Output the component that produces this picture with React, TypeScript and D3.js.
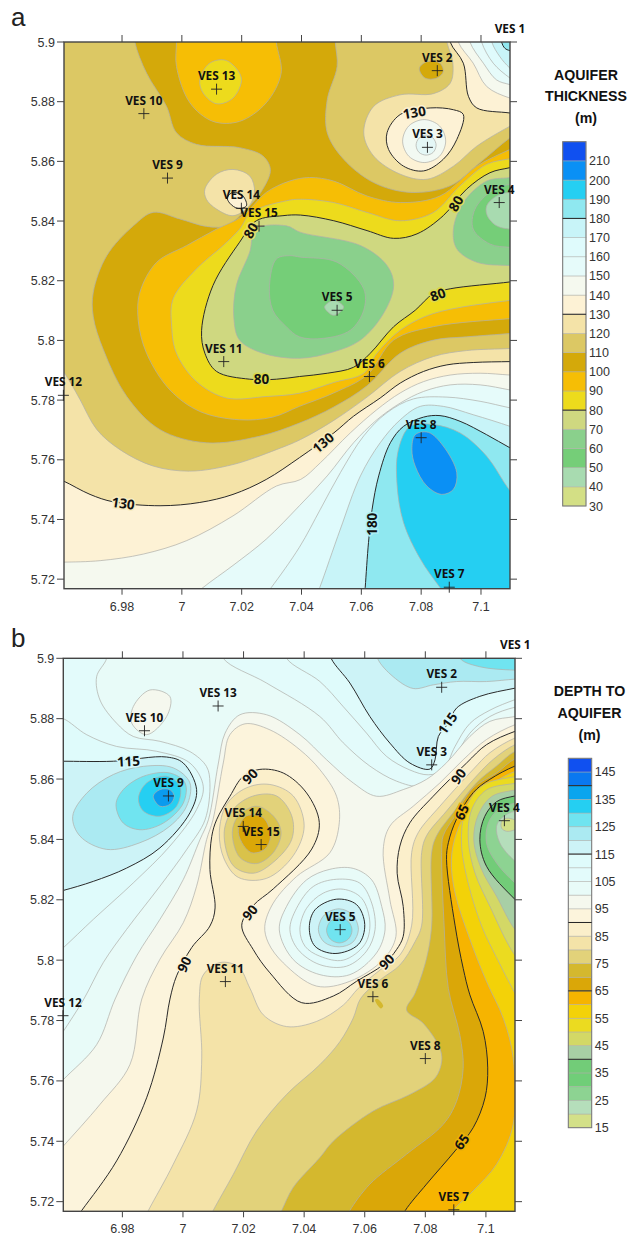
import React from "react";
import * as d3 from "d3";

type P = number[];

// --- Panel a: aquifer thickness contour polygons ---
const aS130: P[] = [[6956,5754.6],[6960.4,5752.9],[6969.3,5748.4],[6977.1,5745.9],[6992.7,5744.6],[7006,5745.7],[7017.1,5748.4],[7028.2,5753.4],[7039.3,5760.7],[7050.8,5769],[7057.4,5774.6],[7066.3,5780.7],[7073,5785.7],[7080.8,5789.6],[7088.6,5791.8],[7097.4,5792.6],[7109.7,5792.9],[7117,5793],[7125,5700],[6950,5700]];
const aS140: P[] = [[6956,5725.7],[6960.4,5725.7],[6972.7,5726.2],[6987.1,5728.4],[7001.6,5732.9],[7017.1,5741.2],[7031.6,5751.2],[7039.7,5753.4],[7046.3,5759],[7056.3,5769],[7065.2,5776.8],[7073,5782.4],[7080.8,5786.2],[7089.7,5788.4],[7099.7,5789],[7109.7,5788.4],[7117,5788],[7125,5700],[6950,5700]];
const aS150: P[] = [[7001.6,5712.3],[7007.1,5717.2],[7017.1,5724.6],[7028.2,5733.4],[7039.3,5744.6],[7048.6,5754.6],[7057.4,5765.7],[7065.2,5773.4],[7073,5779],[7080.8,5782.9],[7089.7,5785.1],[7099.7,5785.1],[7109.7,5783.4],[7117,5782],[7125,5700]];
const aS160: P[] = [[7026,5712.3],[7029.9,5717.2],[7039.3,5730.7],[7046.3,5743.4],[7053,5755.7],[7060.8,5768],[7068.6,5775.8],[7077.4,5780.4],[7088.6,5781],[7099.7,5779.6],[7109.7,5777.4],[7117,5776],[7125,5700]];
const aS170: P[] = [[7044.1,5712.3],[7046.1,5717.2],[7053,5736.8],[7059.7,5754.6],[7066.3,5765.7],[7073,5773.4],[7079.7,5777.9],[7087.4,5777.9],[7097.4,5775.1],[7109.7,5771.2],[7117,5768.4],[7125,5700]];
const aS180: P[] = [[7060.8,5710],[7061.3,5717.2],[7062.4,5732.3],[7063.6,5743.4],[7065.8,5754.6],[7069.7,5765.7],[7074.1,5771.2],[7080.8,5774.3],[7086.3,5774.8],[7093,5772.9],[7101.9,5768.4],[7109.7,5764],[7117.4,5760],[7125,5700]];
const aS190: P[] = [[7117.4,5741.1],[7109.7,5749.6],[7101.9,5761.2],[7093,5769],[7084.1,5771.8],[7076.3,5771.2],[7072.4,5763.4],[7071.9,5752.3],[7074.1,5739],[7079.7,5726.8],[7086.3,5717.2],[7091.9,5710],[7125,5700]];
const aS200: P[] = [[7076.9,5763.4],[7078,5768.4],[7082.4,5769.2],[7087.4,5764.6],[7091.9,5755.7],[7090.8,5750.1],[7086.9,5748.4],[7081.9,5751.2],[7078,5757.9]];
const aN130: P[] = [[7089.1,5907.3],[7089.7,5900],[7094.1,5892.9],[7095.8,5881.8],[7098.6,5877.9],[7109.7,5876.2],[7117.4,5875],[7125,5915]];
const aN140: P[] = [[7091.3,5907.3],[7092.4,5900],[7097.4,5892.9],[7101.9,5885.1],[7109.7,5881.2],[7117.4,5879.6],[7125,5915]];
const aN150: P[] = [[7095.2,5907.3],[7096.3,5900],[7100.8,5892.9],[7105.2,5887.3],[7109.7,5885.7],[7117.4,5883.4],[7125,5915]];
const aN160: P[] = [[7099.1,5907.3],[7100.2,5900],[7104.1,5892.9],[7109.7,5887.9],[7117.4,5882.9],[7125,5915]];
const aN170: P[] = [[7102.4,5907.3],[7103.6,5900],[7106.3,5895.1],[7109.7,5891.2],[7117.4,5885],[7125,5915]];
const aN180: P[] = [[7106.3,5907.3],[7106.9,5900],[7108,5897.9],[7109.7,5897.1],[7117.4,5896],[7125,5915]];
const aT120: P[] = [[6950,5915],[7087.4,5907.3],[7088.6,5900],[7090.6,5892.9],[7089.7,5886.2],[7084.1,5882.7],[7073,5882.3],[7064.1,5878.4],[7060.8,5869.6],[7064.1,5861.8],[7073,5855.7],[7081.9,5854],[7090.8,5858.4],[7098.6,5865.1],[7109.7,5871.8],[7117.4,5875.7],[7125,5835],[7117.4,5797.9],[7109.7,5797.3],[7095.2,5796.6],[7084.1,5794.6],[7073,5789.6],[7061.9,5781],[7050.8,5773.2],[7039.7,5766.8],[7031.6,5763.4],[7017.1,5758.4],[7002.7,5756.2],[6990.4,5757.9],[6979.3,5763.4],[6971.6,5770.1],[6966,5780.1],[6963.2,5785.1],[6960.4,5789.6],[6956,5795.7],[6945,5850]];
const aG110: P[] = [[6983.8,5907.3],[6984.3,5900],[6988.2,5889.6],[6994.9,5878.4],[6998.2,5869.6],[7004.9,5865.7],[7019.3,5864.6],[7027.1,5861.8],[7029.6,5857.3],[7027.1,5850.7],[7021.6,5844],[7014.9,5838.4],[7008.2,5838.2],[6999.3,5840.7],[6990.4,5842.9],[6983.8,5838.4],[6974.9,5828.4],[6970.4,5816.2],[6970.4,5807.9],[6973.8,5796.8],[6981.6,5781.2],[6992.7,5770.1],[7008.2,5765.7],[7026,5767.9],[7039.3,5772.3],[7050.8,5777.7],[7061.9,5784.8],[7073,5795.7],[7084.1,5800.1],[7095.2,5801.2],[7109.7,5802.3],[7117.4,5802.9],[7125,5835],[7117.4,5872.9],[7109.7,5867.9],[7099.7,5859.6],[7089.7,5851.8],[7076.3,5849.6],[7064.1,5852.9],[7054.1,5860.7],[7048.6,5869.6],[7048.6,5880.7],[7051.9,5891.8],[7051.3,5900],[7051.3,5907.3]];
const aV14Pale: P[] = [[7007.7,5850.7],[7011.6,5855.7],[7017.1,5857.3],[7022.7,5855.1],[7024.3,5849.6],[7022.1,5844.6],[7017.1,5841.8],[7011.6,5844],[7008.2,5847.3]];
const aV14Peak: P[] = [[7015.2,5847.9],[7017.1,5849.6],[7020.4,5848.4],[7021.6,5845.1],[7018.8,5844.2],[7016,5846]];
const aV2Gold: P[] = [[7079.4,5891.2],[7081.9,5893.4],[7086.3,5892.9],[7087.4,5890.1],[7085.2,5887.9],[7081.3,5887.9]];
const aV3130: P[] = [[7073,5875.7],[7068.6,5869.6],[7069.1,5864],[7074.1,5858.4],[7080.8,5856.8],[7087.4,5860.7],[7091.9,5867.3],[7094.1,5875.7],[7090.8,5877.3],[7083,5877.9]];
const aV3140: P[] = [[7073.8,5866.8],[7075.9,5871.9],[7081,5874],[7086.1,5871.9],[7088.2,5866.8],[7086.1,5861.7],[7081,5859.6],[7075.9,5861.7]];
const aV3150: P[] = [[7078.3,5865.4],[7079.3,5867.8],[7081.7,5868.8],[7084,5867.8],[7085,5865.4],[7084,5863],[7081.7,5862.1],[7079.3,5863]];
const aO100: P[] = [[7020.2,5841.6],[7028.2,5849.6],[7036,5853.4],[7042.7,5854.6],[7050.8,5853.4],[7061.9,5848.4],[7073,5846.2],[7086.3,5848.4],[7098.6,5858.4],[7109.7,5864],[7117.4,5867.3],[7125,5840],[7117.4,5807.9],[7109.7,5807.3],[7084.1,5804.6],[7070.8,5800.1],[7061.9,5788.4],[7050.8,5782.4],[7039.3,5777.9],[7030.4,5774.3],[7019.3,5773.4],[7006,5776.2],[6996,5783.4],[6988.2,5795.7],[6985.4,5806.8],[6986,5816.2],[6991.6,5826.2],[7001.6,5831.8],[7011.6,5837.3]];
const aY90: P[] = [[7023.2,5842.9],[7034.9,5846.8],[7039.7,5847.3],[7050.8,5846.2],[7061.9,5842.9],[7073,5840.1],[7084.1,5842.9],[7093,5851.8],[7101.9,5859],[7109.7,5860.9],[7117.4,5862.3],[7125,5830],[7117.4,5814],[7109.7,5813.4],[7084.1,5809],[7073,5803.4],[7065.2,5795.7],[7060.8,5789],[7050.8,5785.9],[7039.3,5782.3],[7028.2,5781.2],[7014.9,5780.7],[7004.9,5786.2],[6998.2,5795.7],[6996.6,5804.6],[6997.1,5814],[7004.9,5824],[7013.8,5831.8],[7019.3,5837.3]];
const aL80: P[] = [[7024.9,5840.1],[7033.8,5841.8],[7039.7,5842],[7050.8,5840.1],[7061.9,5836.8],[7070.8,5834.2],[7078.6,5835.7],[7087.4,5841.8],[7095.2,5850.7],[7103,5856.2],[7109.7,5857.9],[7117.4,5859.6],[7125,5830],[7117.4,5820.7],[7109.7,5819.6],[7089.7,5817.3],[7084.1,5815.7],[7078,5810.1],[7070.8,5804.6],[7063,5795.7],[7057.4,5791],[7048.6,5789],[7039.3,5787.9],[7031.6,5787],[7022.7,5787],[7011.6,5789.6],[7007.7,5795.7],[7006.6,5803.4],[7010.4,5818.4],[7019.3,5832.9]];
const aB70c: P[] = [[7024.7,5837.3],[7022.7,5829.6],[7018.2,5818.4],[7017.4,5807.3],[7019.3,5800.1],[7027.1,5795.7],[7039.3,5794],[7050.8,5796.2],[7059.7,5800.1],[7067.4,5809],[7070.8,5818.4],[7068.6,5825.1],[7059.7,5831.8],[7039.7,5836.2],[7034.9,5838.4]];
const aB70e: P[] = [[7117.4,5856.2],[7109.7,5854.6],[7101.9,5853.4],[7094.1,5846.2],[7090.8,5837.3],[7091.9,5830.7],[7098.6,5826.2],[7109.7,5825.1],[7117.4,5825.1],[7125,5840]];
const aB60c: P[] = [[7036,5828.4],[7031.6,5827.3],[7029.3,5818.4],[7030.4,5810.1],[7034.9,5804.6],[7039.3,5801.2],[7047.4,5800.7],[7056.3,5803.4],[7060.8,5810.1],[7060.8,5817.3],[7051.9,5826.2],[7039.7,5827.9]];
const aB60e: P[] = [[7117.4,5852.3],[7109.7,5852.3],[7103.6,5850.1],[7098,5844],[7097.4,5837.3],[7103,5832.3],[7109.7,5831.2],[7117.4,5831.2],[7125,5840]];
const aB50e: P[] = [[7101.9,5845.1],[7105.2,5848.4],[7109.7,5849.6],[7117.4,5848.4],[7117.4,5837.3],[7109.7,5837.3],[7105.2,5838.4],[7102.1,5841.8]];
const aB50c: P[] = [[7047.7,5811.2],[7050.8,5813.4],[7054.1,5811.2],[7050.8,5808.4]];
const aV13Orange: P[] = [[6998.2,5907.3],[6998.2,5900],[6998.2,5891.8],[7002.7,5879.6],[7010.4,5873.4],[7019.3,5873.4],[7028.2,5879.6],[7033.2,5889.6],[7031.6,5900],[7031.6,5907.3]];
const aV13Yellow: P[] = [[7006,5887.3],[7009.3,5892.9],[7014.9,5893.8],[7019.9,5887.9],[7017.1,5881.2],[7011.6,5879.3],[7007.1,5882.9]];

// --- Panel b: depth to aquifer contour polygons ---
const bW110: P[] = [[6956.1,5880.7],[6960.5,5880],[6968.2,5874.7],[6978.1,5870.8],[6991.3,5869.2],[7002.3,5865.3],[7006.7,5857.6],[7004.5,5849.9],[6995.7,5837.8],[6983.6,5825.6],[6970.4,5813.5],[6960.5,5804.1],[6955,5799.2],[6945,5840]];
const bW115: P[] = [[6956.1,5865.9],[6960.5,5865.9],[6977,5865.9],[6994.6,5867.3],[7000.1,5865.3],[7004.5,5856.5],[7002.3,5848.8],[6992.4,5837.2],[6981.4,5830.5],[6970.4,5826.1],[6960.5,5823.1],[6955,5821.8],[6945,5845]];
const bW120: P[] = [[6963.6,5847.6],[6968.2,5855.3],[6977,5861.5],[6986.9,5864.2],[6996.8,5863.7],[7002.3,5858.7],[7001.2,5851],[6995.7,5844.4],[6985.8,5838.9],[6974.8,5836.7],[6966,5841.1]];
const bW125: P[] = [[6977.9,5851.6],[6980.3,5856.5],[6986.9,5860.9],[6995.7,5862],[7000.7,5858.7],[7000.1,5852],[6993.5,5845.4],[6985.8,5843.2],[6980.3,5845.4]];
const bW130: P[] = [[6985.3,5853.7],[6988,5858.7],[6994.6,5860.9],[6999,5857.6],[6997.9,5851],[6992.4,5847.7],[6986.9,5849.4]];
const bW135: P[] = [[6990.2,5854.3],[6992.4,5856.5],[6995.7,5856.5],[6997.1,5854.3],[6995.7,5851.6],[6992.4,5851]];
const bN110: P[] = [[7033.1,5906],[7034.2,5900],[7045.2,5892.3],[7052.9,5884],[7060.6,5875.2],[7067.2,5867.5],[7074.9,5863],[7081,5861.4],[7085.9,5863],[7089.8,5870.8],[7094.7,5878.4],[7101.3,5882.8],[7109.6,5886.3],[7115.6,5888.3],[7125,5915]];
const bN115: P[] = [[7047.4,5906],[7048.9,5900],[7055.1,5891.8],[7061.7,5880.7],[7068.3,5871.9],[7074.9,5865.3],[7081.5,5863.3],[7083.2,5866.4],[7084.3,5874.1],[7087.6,5878.5],[7090.3,5883.5],[7098,5887.4],[7109.6,5890.1],[7115.6,5891.2],[7125,5915]];
const bN120: P[] = [[7063.4,5906],[7064.2,5900],[7069.4,5893.9],[7076,5890],[7082.6,5891.2],[7090.3,5892.3],[7100.2,5892.3],[7109.6,5893.1],[7115.6,5893.4],[7125,5915]];
const bN125: P[] = [[7090.3,5906],[7091.4,5900],[7098,5897.2],[7109,5896.1],[7115.6,5896.1],[7125,5915]];
const bL105: P[] = [[6974.8,5906],[6974.8,5900],[6971.5,5893.9],[6972.6,5886.2],[6978.1,5878.5],[6983.6,5874.1],[6992.4,5872.5],[7002.3,5869.1],[7007.8,5864.1],[7008.9,5858.6],[7007.3,5846.5],[7001.2,5836.6],[6992.4,5824.5],[6981.4,5810.2],[6973.7,5799.2],[6967.1,5786.8],[6960.5,5776.4],[6956.1,5769.8],[6950,5700],[7125,5700],[7125,5860],[7115.6,5884.6],[7109.6,5883.8],[7101.3,5880.7],[7094.7,5875.2],[7089.2,5866.4],[7083.7,5860.4],[7078.2,5857.6],[7070.5,5859.3],[7061.7,5864.3],[7052.9,5872],[7045.2,5880.7],[7027.6,5891.8],[7013.3,5900],[7012.2,5906]];
const bV10: P[] = [[6983.1,5878.5],[6983.6,5884],[6989.1,5889.5],[6995.7,5887.3],[6994.6,5880.7],[6988,5874.7]];
const bL100: P[] = [[6956.1,5755.5],[6960.5,5760.4],[6971.5,5772],[6977.6,5787.1],[6984.7,5801.4],[6992.4,5813.5],[7000.1,5826.7],[7005.6,5839.9],[7008.4,5846.5],[7011.7,5865.3],[7013.9,5875.2],[7018.8,5881.3],[7027.6,5881.3],[7038.6,5874.7],[7047.4,5866.4],[7056.2,5858.7],[7063.9,5854.3],[7072.7,5856.5],[7080.4,5859.9],[7087,5865.4],[7094.7,5874.1],[7101.3,5879.1],[7109.6,5880.7],[7115.6,5881.8],[7125,5700],[6950,5700]];
const bL95: P[] = [[6956.1,5733.5],[6960.5,5738.4],[6972.6,5752.2],[6982.5,5765.4],[6986.4,5787.1],[6992.4,5800.3],[7000.1,5812.4],[7004.5,5824.5],[7007.8,5839.9],[7009.9,5846.5],[7013.3,5865.3],[7015.5,5874.7],[7020.5,5878.3],[7028.7,5876.3],[7038.6,5869.7],[7045.2,5863.1],[7050.7,5854.3],[7051.6,5845.5],[7048.5,5835.6],[7037.5,5827.7],[7029.8,5818.9],[7027,5811.2],[7028.2,5805.7],[7033.1,5799.1],[7044.1,5791.4],[7055.1,5793],[7066.1,5800.2],[7070.3,5807.9],[7068.3,5820],[7066.1,5836.5],[7068.3,5844.4],[7076,5851],[7084.8,5858.7],[7092.5,5866.4],[7100.2,5873.1],[7109.6,5878],[7115.6,5879.6],[7125,5700],[6950,5700]];
const bL90: P[] = [[6963.3,5712.6],[6966.6,5717.1],[6978.1,5733.5],[6988,5754.4],[6993.5,5774.2],[6995.7,5787.1],[6997.9,5794.8],[7002.9,5804.2],[7008.9,5811.3],[7010.6,5817.3],[7008.9,5830],[7009.5,5841],[7011.1,5846.5],[7015.5,5854.3],[7019.9,5860.9],[7025.4,5863.2],[7033.1,5862],[7040.8,5855.4],[7045,5845.6],[7042.5,5836.8],[7029.8,5823.6],[7023.2,5818.1],[7019.4,5811.6],[7023.2,5803.5],[7028.7,5795.8],[7039.2,5785.9],[7049.6,5788.1],[7057.3,5793],[7066.1,5798.5],[7070.5,5803.5],[7072.7,5807.9],[7072.7,5817.8],[7070.7,5828.8],[7071.6,5837.8],[7074.9,5845.5],[7082.6,5854.3],[7093.6,5865.3],[7100.2,5871.4],[7109.6,5875.8],[7115.6,5877.5],[7125,5700],[6960,5700]];
const bL85: P[] = [[6986.4,5712.6],[6988.6,5717.1],[6996.8,5732.4],[7004.5,5750],[7006.2,5767.6],[7005.4,5787.4],[7006.7,5795.1],[7012.2,5799.2],[7018.3,5797.8],[7022.1,5790.7],[7026.5,5781.9],[7034.2,5778],[7044.1,5779.7],[7052.9,5785.1],[7057.9,5790.7],[7065,5796.7],[7071.6,5801.7],[7075.5,5811.6],[7075.5,5835.7],[7077.7,5842.3],[7084.8,5851],[7095.8,5863.2],[7101.3,5868.7],[7109.6,5873.6],[7115.6,5875.3],[7125,5700],[6975,5700]];
const bL80: P[] = [[7007.8,5712.6],[7010,5717.1],[7016.6,5729],[7024.3,5743.4],[7034.2,5755.5],[7045.2,5765.4],[7051.8,5773],[7056.2,5780.8],[7058.7,5787.4],[7065,5793.4],[7071.6,5798.4],[7076.6,5806.1],[7078.8,5811.6],[7078.8,5835.7],[7080.4,5841.2],[7087,5849.4],[7096.9,5861],[7102.4,5866.5],[7109.6,5871.4],[7115.6,5873],[7125,5700],[7000,5700]];
const bL75: P[] = [[7030.4,5712.6],[7032.6,5717.1],[7036.4,5724.7],[7045.2,5734.6],[7049.6,5740],[7062.8,5750],[7074.9,5755.5],[7083.2,5760.9],[7085.4,5766.4],[7084.8,5770.8],[7079.3,5779.1],[7073.8,5783.5],[7076.6,5789],[7080.4,5800.6],[7082.1,5811.6],[7082.1,5835.7],[7083.7,5841.2],[7089.2,5848.9],[7096.9,5858.8],[7103.5,5864.3],[7109.6,5869.2],[7115.6,5870.9],[7125,5700],[7020,5700]];
const bChip: P[] = [[7063.4,5786.8],[7064.2,5787.1],[7066.1,5784.8],[7065.3,5784]];
const bL70: P[] = [[7052.9,5712.6],[7055.1,5717.1],[7061.7,5725.8],[7073.8,5735.7],[7085.9,5745.6],[7090.3,5753.2],[7092.5,5764.2],[7091.4,5775.2],[7087.6,5790.6],[7086.2,5811.6],[7085.4,5835.7],[7085.9,5841.2],[7089.8,5847.8],[7095.8,5857.1],[7103.5,5862],[7109.6,5866.7],[7115.6,5868.1],[7125,5700],[7045,5700]];
const bL65: P[] = [[7071.1,5712.6],[7073.4,5717.1],[7080.4,5725.8],[7089.8,5736.8],[7095.8,5744.5],[7099.7,5754.4],[7100.6,5764.3],[7099.1,5776.4],[7094.7,5788.5],[7092.5,5797.3],[7089.8,5811.6],[7087,5833.4],[7087.6,5838.9],[7090.3,5846.7],[7095.8,5855.5],[7101.3,5859.9],[7109.6,5864.3],[7115.6,5866],[7125,5700],[7065,5700]];
const bL60: P[] = [[7115.6,5863.5],[7109.6,5862.5],[7102.4,5858.6],[7095.3,5852],[7090.3,5842.1],[7088.6,5833.3],[7089.8,5822.3],[7094.7,5806.9],[7100.2,5792.9],[7105.7,5780.8],[7109,5767.6],[7109,5745.6],[7103.5,5732.4],[7095.8,5723.6],[7089.2,5717.1],[7087,5712.6],[7125,5700],[7125,5860]];
const bL55: P[] = [[7115.6,5861.9],[7109.6,5860.8],[7099.1,5858],[7093.6,5850.9],[7091.9,5839.9],[7093.6,5827.8],[7098.6,5811.3],[7103.5,5800.9],[7109.6,5789],[7115.6,5778.6],[7125,5770],[7125,5860]];
const bL50: P[] = [[7115.6,5859.7],[7109.6,5858.6],[7100.2,5856.4],[7095.3,5849.8],[7094.2,5839.9],[7096.4,5828.9],[7101.3,5817.9],[7109,5802.5],[7115.6,5794.8],[7125,5790],[7125,5860]];
const bL45: P[] = [[7115.6,5857.5],[7109.6,5856.4],[7101.9,5854.2],[7097.5,5848.2],[7096,5839.9],[7098.6,5830],[7103.5,5821.2],[7109.6,5810.2],[7115.6,5804.7],[7125,5800],[7125,5860]];
const bL40: P[] = [[7115.6,5855.3],[7109.6,5854.4],[7103.5,5852.5],[7099.6,5847.6],[7098,5839.9],[7100.2,5831.1],[7109.6,5820.1],[7115.6,5814.6],[7125,5810],[7125,5860]];
const bL30: P[] = [[7115.6,5852],[7109.6,5852],[7104,5849.8],[7100.8,5845.4],[7100.2,5838.8],[7103.5,5832.2],[7109.6,5825.6],[7115.6,5821.2],[7125,5820],[7125,5855]];
const bL25: P[] = [[7115.6,5848.2],[7109.6,5849.3],[7105.2,5847.1],[7103.5,5844.3],[7104.6,5838.8],[7109.6,5832.8],[7115.6,5828.9],[7125,5830],[7125,5850]];
const bV4Core: P[] = [[7105.2,5846],[7106.8,5847],[7109.5,5846.5],[7112,5845],[7109.5,5843.2],[7106.8,5842.7],[7105.2,5843.7]];
const bR85: P[] = [[7012,5842.3],[7014.4,5851.6],[7021,5857.1],[7028.7,5858.2],[7036.4,5854.4],[7040,5844.5],[7036.4,5834.6],[7027.6,5827.1],[7018.3,5827.4],[7013.6,5833.5]];
const bR80: P[] = [[7013.6,5842.3],[7016.6,5850],[7023.2,5854.4],[7030.9,5854.4],[7035.9,5847.8],[7035.9,5840],[7029.8,5832.4],[7023.2,5828.8],[7016.6,5831.3]];
const bR75: P[] = [[7016.3,5842.3],[7018.3,5847.8],[7024.3,5851],[7029.8,5847.8],[7032.4,5842.3],[7029.8,5835.6],[7024.3,5832],[7018.8,5834]];
const bR70: P[] = [[7018.3,5843.4],[7021,5847.8],[7026.5,5847.2],[7028.9,5841.2],[7027.1,5836.8],[7022.7,5835.6],[7019.4,5839]];
const bV5R100: P[] = [[7031.8,5810],[7034.2,5817.8],[7040.8,5826.6],[7048.5,5830.1],[7056.2,5830.4],[7062.3,5826.6],[7065.6,5817.8],[7066.7,5810],[7063.9,5802.4],[7055.1,5795.2],[7045.2,5795.2],[7036.4,5800.2]];
const bV5R105: P[] = [[7035.3,5810.1],[7037.5,5817.2],[7043,5824.4],[7050.7,5826.8],[7058.4,5825.5],[7062.3,5818.9],[7063.4,5810.1],[7060.6,5803],[7054,5798],[7045.2,5798.5],[7038,5803.5]];
const bV5R110: P[] = [[7038.6,5810.1],[7040.8,5817.2],[7046.3,5822.2],[7052.9,5823.5],[7059,5820.5],[7061.7,5812.3],[7060,5805.2],[7052.9,5800],[7045.2,5801.3],[7040.3,5804.6]];
const bV5R115: P[] = [[7041.7,5810.7],[7043.6,5816.7],[7050.7,5820.2],[7057.3,5818.4],[7060,5811.8],[7057.9,5805.2],[7050.2,5802.2],[7043.6,5804.6]];
const bV5R120: P[] = [[7044.7,5810.1],[7046.7,5815],[7051.6,5817],[7056,5815],[7057.9,5810.1],[7056,5805.9],[7051.6,5804.4],[7046.7,5805.9]];
const bV5R125: P[] = [[7047.4,5809.9],[7048.6,5812.8],[7051.6,5814],[7054.6,5812.8],[7055.8,5809.9],[7054.6,5807],[7051.6,5805.7],[7048.6,5807]];

// --- Survey stations ---
const vesNames = ["VES 1","VES 2","VES 3","VES 4","VES 5","VES 6","VES 7","VES 8","VES 9","VES 10","VES 11","VES 12","VES 13","VES 14","VES 15"];
const vesLon = [7109.7,7085.4,7082.1,7106.1,7051.9,7062.7,7089.4,7080,6995.2,6987.3,7014,6960.4,7011.6,7019.9,7025.8];
const vesLat = [5900,5890.4,5864.7,5846.2,5810.1,5787.9,5717.3,5767.4,5854.4,5876,5792.9,5781.6,5884.2,5844.3,5838.3];

// --- Ticks ---
const lonTicks = [6980,7000,7020,7040,7060,7080,7100];
const latTicks = [5900,5880,5860,5840,5820,5800,5780,5760,5740,5720];

// --- Legends ---
const aLegendLevels = [30,40,50,60,70,80,90,100,110,120,130,140,150,160,170,180,190,200,210];
const aLegendColors = ["#D3DF85","#A8DBB0","#75CE78","#8AD08C","#CFD880","#EDDB1C","#F6BE05","#D4A90A","#DCC864","#F4E3A8","#FDF2D5","#F5F9EF","#E6FBFA","#DFFBFC","#C8F4F8","#8FE8F0","#25CFF2","#0A90F5","#1050F0"];
const aLegendBlack = [80,130,180];
const bLegendLevels = [15,20,25,30,35,40,45,50,55,60,65,70,75,80,85,90,95,100,105,110,115,120,125,130,135,140,145];
const bLegendColors = ["#D3E088","#B5DEBB","#8DD392","#70CE78","#72CC78","#A8CFA5","#D3D866","#EBDB20","#F3D208","#F6B400","#DAA708","#D4B82E","#E2D27A","#F4E3A8","#FBEFCB","#FCF4DC","#F5F8EE","#E8FBF8","#E3FBFB","#DFFBFB","#CDF3F7","#ABEAF2","#70E4F0","#25CFF2","#0AA5EE","#0A78F0","#1050F0"];
const bLegendBlack = [40,65,90,115,140];

// --- Contour labels: text, lon, lat, angle, halo ---
const aLabels: [string,number,number,number,string][] = [
  ["80",7023,5836.8,-60,"#E8DC60"],["130",7077.7,5876.4,-10,"#FBF0D0"],["80",7091.6,5845.9,-60,"#DDD94C"],["80",7085.6,5815.4,-20,"#DDD94C"],
  ["80",7026.6,5787,0,"#DDD94C"],["130",6980.4,5745.4,8,"#F8ECC0"],["130",7047.2,5765.7,-40,"#F8ECC0"],["180",7063.6,5738.4,-90,"#ACEEF4"]];
const bLabels: [string,number,number,number,string][] = [
  ["115",6982,5865.9,-3,"#D8F8FA"],["90",7022.1,5860.9,-45,"#FBF1D4"],["90",7022.1,5815.8,-50,"#FBF1D4"],["90",7000.4,5798.6,-65,"#FBF1D4"],
  ["90",7067.2,5799.5,-45,"#FBF1D4"],["115",7087.3,5878.5,-55,"#D8F8FA"],["90",7090.9,5860.9,-55,"#FBF1D4"],["65",7092,5849,-65,"#F0B810"],["65",7092,5739.8,-55,"#EBB008"]];

const G = "rgba(175,175,170,0.8)";
const K = "#2a2a2a";
type Layer = [P[], string, string];
const aLayers: Layer[] = [
  [aS130,"#FDF2D5",K],[aS140,"#F5F9EF",G],[aS150,"#E6FBFA",G],[aS160,"#DFFBFC",G],[aS170,"#C8F4F8",G],[aS180,"#8FE8F0",K],[aS190,"#25CFF2",G],[aS200,"#0A90F5",G],
  [aN130,"#FDF2D5",K],[aN140,"#F5F9EF",G],[aN150,"#E6FBFA",G],[aN160,"#DFFBFC",G],[aN170,"#C8F4F8",G],[aN180,"#8FE8F0",K],
  [aT120,"#DCC864",G],[aG110,"#D4A90A",G],[aV14Pale,"#F4E3A8",G],[aV14Peak,"#FDF2D5",K],[aV2Gold,"#D4A90A",G],
  [aV3130,"#FDF2D5",K],[aV3140,"#F2F9F2",G],[aV3150,"#E4F7F6",G],
  [aO100,"#F6BE05",G],[aY90,"#EDDB1C",G],[aL80,"#CFD880",K],[aB70c,"#8AD08C",G],[aB70e,"#8AD08C",G],[aB60c,"#75CE78",G],[aB60e,"#75CE78",G],[aB50e,"#A8DBB0",G],[aB50c,"#A8DBB0",G],
  [aV13Orange,"#F6BE05",G],[aV13Yellow,"#EDDB1C",G]];
const bLayers: Layer[] = [
  [bW110,"#DFFBFB",G],[bW115,"#CDF3F7",K],[bW120,"#ABEAF2",G],[bW125,"#70E4F0",G],[bW130,"#25CFF2",G],[bW135,"#0A9BEE",G],
  [bN110,"#DFFBFB",G],[bN115,"#CDF3F7",K],[bN120,"#ABEAF2",G],[bN125,"#70E4F0",G],
  [bL105,"#E8FBF8",G],[bV10,"#F5F8EE",G],[bL100,"#F5F8EE",G],[bL95,"#FCF4DC",G],[bL90,"#FBEFCB",K],[bL85,"#F4E3A8",G],[bL80,"#E2D27A",G],[bL75,"#D4B82E",G],[bChip,"#D4B82E","none"],[bL70,"#DAA708",G],[bL65,"#F6B400",K],[bL60,"#F3D208",G],[bL55,"#EBDB20",G],[bL50,"#D3D866",G],[bL45,"#A8CFA5",G],[bL40,"#72CC78",K],[bL30,"#8DD392",G],[bL25,"#B5DEBB",G],[bV4Core,"#D3E088",G],
  [bR85,"#F4E3A8",G],[bR80,"#E2D27A",G],[bR75,"#D9C24A",G],[bR70,"#DAA708",G],
  [bV5R100,"#E8FBF8",G],[bV5R105,"#E3FBFB",G],[bV5R110,"#DFFBFB",G],[bV5R115,"#CDF3F7",K],[bV5R120,"#ABEAF2",G],[bV5R125,"#70E4F0",G]];

const SANS = "'Liberation Sans', sans-serif";
const LABEL = "'Open Sans', sans-serif";
const AX = "#444";
const fmt = (v: number) => String(v / 1000);

function Panel({ id, letter, letterY, layers, base, labels, xDom, yDom, xR, yR }: any) {
  const x = d3.scaleLinear().domain(xDom).range(xR);
  const y = d3.scaleLinear().domain(yDom).range(yR);
  const line = d3.line<P>().x((d) => x(d[0])).y((d) => y(d[1])).curve(d3.curveCatmullRomClosed.alpha(0.5));
  const [l, r] = xR; const [t, b] = yR;
  return (
    <g>
      <defs><clipPath id={id}><rect x={l} y={t} width={r - l} height={b - t} /></clipPath></defs>
      <text x={11} y={letterY} fontFamily={SANS} fontSize={26} fill="#222">{letter}</text>
      <g clipPath={`url(#${id})`}>
        <rect x={l} y={t} width={r - l} height={b - t} fill={base} />
        {layers.map(([pts, fill, stroke]: Layer, i: number) => (
          <path key={i} d={line(pts) || ""} fill={fill} stroke={stroke} strokeWidth={stroke === K ? 1 : 0.9} />
        ))}
      </g>
      {labels.map(([s, lo, la, rot, halo]: any, i: number) => (
        <text key={i} transform={`translate(${x(lo)},${y(la)}) rotate(${rot})`} textAnchor="middle" dominantBaseline="central"
          fontFamily={LABEL} fontWeight={700} fontSize={13.5} fill="#111" stroke={halo} strokeWidth={3} paintOrder="stroke">{s}</text>
      ))}
      {lonTicks.map((v) => (
        <g key={v} stroke={AX} strokeWidth={1}>
          <line x1={x(v)} x2={x(v)} y1={t - 7} y2={t} />
          <line x1={x(v)} x2={x(v)} y1={b} y2={b + 6} />
        </g>
      ))}
      {latTicks.map((v) => (
        <g key={v} stroke={AX} strokeWidth={1}>
          <line x1={l - 7} x2={l} y1={y(v)} y2={y(v)} />
          <line x1={r} x2={r + 7} y1={y(v)} y2={y(v)} />
        </g>
      ))}
      <rect x={l} y={t} width={r - l} height={b - t} fill="none" stroke={AX} strokeWidth={1.4} />
      {lonTicks.map((v) => (
        <text key={v} x={x(v)} y={b + 22} textAnchor="middle" fontFamily={SANS} fontSize={12.5} fill="#333">{fmt(v)}</text>
      ))}
      {latTicks.map((v) => (
        <text key={v} x={l - 9} y={y(v) + 4.5} textAnchor="end" fontFamily={SANS} fontSize={12.5} fill="#333">{fmt(v)}</text>
      ))}
      {vesNames.map((n, i) => (
        <g key={n}>
          {i > 0 && <g stroke="#222" strokeWidth={0.9}>
            <line x1={x(vesLon[i]) - 5.5} x2={x(vesLon[i]) + 5.5} y1={y(vesLat[i])} y2={y(vesLat[i])} />
            <line x1={x(vesLon[i])} x2={x(vesLon[i])} y1={y(vesLat[i]) - 5.5} y2={y(vesLat[i]) + 5.5} />
          </g>}
          <text x={x(vesLon[i])} y={y(vesLat[i]) - 9} textAnchor="middle" fontFamily={LABEL} fontWeight={700} fontSize={11.8} fill="#111">{n}</text>
        </g>
      ))}
    </g>
  );
}

function Legend({ title, cx, titleY, x0, x1, levels, colors, black, labels, step, yFor }: any) {
  return (
    <g>
      {title.map((s: string, i: number) => (
        <text key={s} x={cx} y={titleY[i]} textAnchor="middle" fontFamily={SANS} fontWeight={700} fontSize={14.2} fill="#111">{s}</text>
      ))}
      {levels.map((v: number, i: number) => (
        <rect key={v} x={x0} width={x1 - x0} y={yFor(v + step)} height={yFor(v) - yFor(v + step)} fill={colors[i]} stroke="rgba(175,175,170,0.7)" strokeWidth={0.7} />
      ))}
      <rect x={x0} width={x1 - x0} y={yFor(levels[levels.length - 1] + step)} height={yFor(levels[0]) - yFor(levels[levels.length - 1] + step)} fill="none" stroke="#777" strokeWidth={1} />
      {black.map((v: number) => (
        <line key={v} x1={x0} x2={x1} y1={yFor(v)} y2={yFor(v)} stroke="#222" strokeWidth={1} />
      ))}
      {labels.map((v: number) => (
        <text key={v} x={x1 + 3} y={yFor(v) + 4.5} fontFamily={SANS} fontSize={12.5} fill="#333">{v}</text>
      ))}
    </g>
  );
}

export default function App() {
  const aY = d3.scaleLinear().domain([30, 220]).range([506, 141.7]);
  const bY = d3.scaleLinear().domain([15, 150]).range([1127.7, 758.3]);
  return (
    <svg width={629} height={1237} viewBox="0 0 629 1237" style={{ position: "absolute", left: 0, top: 0, display: "block" }}>
      <rect width={629} height={1237} fill="#fff" />
      <Panel id="ca" letter="a" letterY={26} layers={aLayers} base="#F4E3A8" labels={aLabels}
        xDom={[6960.6, 7109.7]} yDom={[5900, 5716.8]} xR={[64, 510]} yR={[42, 588.7]} />
      <Panel id="cb" letter="b" letterY={647} layers={bLayers} base="#E3FBFB" labels={bLabels}
        xDom={[6960.5, 7109.6]} yDom={[5900, 5716.8]} xR={[63.3, 515]} yR={[658.3, 1211.3]} />
      <Legend title={["AQUIFER", "THICKNESS", "(m)"]} cx={586} titleY={[79.5, 101, 122.5]} x0={562.7} x1={586} levels={aLegendLevels} colors={aLegendColors}
        black={aLegendBlack} labels={aLegendLevels} step={10} yFor={aY} />
      <Legend title={["DEPTH TO", "AQUIFER", "(m)"]} cx={589.5} titleY={[696, 717.5, 739.5]} x0={568.3} x1={591.7} levels={bLegendLevels} colors={bLegendColors}
        black={bLegendBlack} labels={bLegendLevels.filter((_, i) => i % 2 === 0)} step={5} yFor={bY} />
    </svg>
  );
}
